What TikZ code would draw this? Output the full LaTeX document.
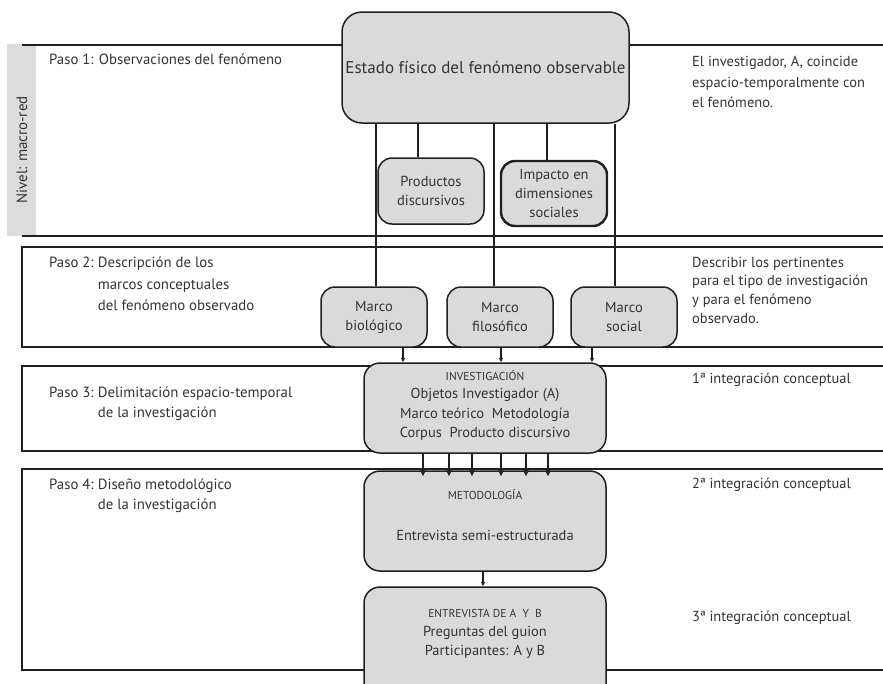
\documentclass[tikz,border=0pt]{standalone}
\usepackage{fontspec}
\setmainfont{PT Sans}
\usetikzlibrary{arrows.meta}
\definecolor{boxgray}{HTML}{DADADA}
\definecolor{bargray}{HTML}{DCDCDC}
\definecolor{ink}{HTML}{231F20}
\definecolor{txt}{HTML}{333333}
\pgfdeclarelayer{background}
\pgfsetlayers{background,main}

\tikzset{
  box/.style={draw=ink, fill=boxgray, line width=1.5pt, inner sep=0pt,
              rounded corners=14pt, text=txt, align=center,
              font=\fontsize{14.5}{19}\selectfont},
  panel/.style={draw=ink, line width=1.4pt},
  link/.style={draw=ink, line width=1.4pt},
  arr/.style={draw=ink, line width=1.3pt, -{Triangle[length=6pt,width=5.5pt]}},
  sarr/.style={draw=ink, line width=1.1pt, -{Triangle[length=4.5pt,width=4pt]}},
  lefttext/.style={anchor=west, text=txt, inner sep=0pt, align=left},
  righttext/.style={anchor=west, text=txt, inner sep=0pt, align=left},
  caps/.style={text=txt, inner sep=0pt, font=\fontsize{11.5}{13}\selectfont},
}
\newcommand\pasolabel[1]{#1\hspace{0.28em}}

\begin{document}
\begin{tikzpicture}[x=1pt, y=-1pt]
\useasboundingbox (0,0) rectangle (883,683);
\clip (0,0) rectangle (883,683);

% ---------- boxes ----------
\node[box, rounded corners=20pt, minimum width=287pt, minimum height=111pt,
      font=\fontsize{17}{20}\selectfont] (estado) at (485.5,67.5)
      {Estado físico del fenómeno observable};

\node[box, minimum width=106pt, minimum height=66pt] (prod) at (431,191)
      {Productos\\discursivos};
\node[box, line width=2.4pt, minimum width=106pt, minimum height=65pt] (imp) at (554,193.5)
      {Impacto en\\dimensiones\\sociales};

\node[box, minimum width=106pt, minimum height=60pt] (mb) at (374,317)
      {Marco\\biológico};
\node[box, minimum width=106pt, minimum height=60pt] (mf) at (500,317)
      {Marco\\filosófico};
\node[box, minimum width=106pt, minimum height=60pt] (ms) at (624,317)
      {Marco\\social};

\node[box, rounded corners=16pt, minimum width=242pt, minimum height=90pt] (inv) at (485,408) {};
\node[caps] (invt) at (485,376) {INVESTIGACIÓN};
\node[text=txt, inner sep=0pt, align=center, font=\fontsize{14.5}{19.3}\selectfont] (invb) at (485,414.5)
      {Objetos Investigador (A)\\Marco teórico\ \ Metodología\\Corpus\ \ Producto discursivo};

\node[box, rounded corners=16pt, minimum width=242pt, minimum height=100pt] (met) at (485,521) {};
\node[caps] (mett) at (485,495) {METODOLOGÍA};
\node[text=txt, inner sep=0pt, font=\fontsize{14.5}{19}\selectfont] (metb) at (485,535)
      {Entrevista semi-estructurada};

\node[box, rounded corners=16pt, minimum width=242pt, minimum height=116pt] (ent) at (485,645) {};
\node[caps] (entt) at (485,613) {ENTREVISTA DE A\hspace{3pt} Y\hspace{3pt} B};
\node[text=txt, inner sep=0pt, align=center, font=\fontsize{14.5}{19.3}\selectfont] (entb) at (485,642.5)
      {Preguntas del guion\\Participantes: A y B};

% ---------- panels and connectors behind the boxes ----------
\begin{pgfonlayer}{background}
  \fill[bargray] (7,44) rectangle (36,236);
  \draw[panel] (22,45) -- (890,45);
  \draw[panel] (22,236) -- (890,236);
  \draw[panel] (890,247) -- (22,247) -- (22,347) -- (890,347);
  \draw[panel] (890,366) -- (22,366) -- (22,451) -- (890,451);
  \draw[panel] (890,469) -- (22,469) -- (22,670) -- (890,670);

  \draw[link] ([xshift=2pt]mb.north) -- ([xshift=2pt]mb.north |- estado.south);
  \draw[link] ([xshift=-13pt]prod.north) -- ([xshift=-13pt]prod.north |- estado.south);
  \draw[link] ([xshift=-6pt]mf.north) -- ([xshift=-6pt]mf.north |- estado.south);
  \draw[link] ([xshift=-7pt]imp.north) -- ([xshift=-7pt]imp.north |- estado.south);
  \draw[link] ([xshift=-9pt]ms.north) -- ([xshift=-9pt]ms.north |- estado.south);
\end{pgfonlayer}

% ---------- arrows ----------
\draw[sarr] ([xshift=29pt]mb.south) -- ([xshift=29pt]mb.south |- inv.north);
\draw[sarr] ([xshift=1pt]mf.south) -- ([xshift=1pt]mf.south |- inv.north);
\draw[sarr] ([xshift=-32pt]ms.south) -- ([xshift=-32pt]ms.south |- inv.north);

\foreach \dx in {-62,-36,-13,16,41,63}
  \draw[arr, shorten >=-6pt] ([xshift=\dx pt]inv.south) -- ([xshift=\dx pt]met.north);

\draw[sarr] ([xshift=-2pt]met.south) -- ([xshift=-2pt]ent.north);

% ---------- side texts ----------
\node[rotate=90, text=txt, inner sep=0pt, font=\fontsize{15}{17}\selectfont] (nivel) at (22,150)
      {Nivel: macro-red};

\node[lefttext, font=\fontsize{14.8}{20}\selectfont] (p1) at (49,59)
      {Paso 1: Observaciones del fenómeno};
\node[lefttext, font=\fontsize{14.8}{21.5}\selectfont] (p2) at (49,285)
      {\begin{tabular}{@{}l@{}l@{}}\pasolabel{Paso 2:} & Descripción de los\\ & marcos conceptuales\\ & del fenómeno observado\end{tabular}};
\node[lefttext, font=\fontsize{14.8}{20}\selectfont] (p3) at (49,403)
      {\begin{tabular}{@{}l@{}l@{}}\pasolabel{Paso 3:} & Delimitación espacio-temporal\\ & de la investigación\end{tabular}};
\node[lefttext, font=\fontsize{14.8}{20}\selectfont] (p4) at (49,495)
      {\begin{tabular}{@{}l@{}l@{}}\pasolabel{Paso 4:} & Diseño metodológico\\ & de la investigación\end{tabular}};

\node[righttext, font=\fontsize{14.5}{20.5}\selectfont] (r1) at (692,82)
      {El investigador, A, coincide\\espacio-temporalmente con\\el fenómeno.};
\node[righttext, font=\fontsize{14.5}{18.7}\selectfont] (r2) at (692,290)
      {Describir los pertinentes\\para el tipo de investigación\\y para el fenómeno\\observado.};
\node[righttext, font=\fontsize{14.5}{18}\selectfont] (r3) at (692,380) {1ª integración conceptual};
\node[righttext, font=\fontsize{14.5}{18}\selectfont] (r4) at (692,485) {2ª integración conceptual};
\node[righttext, font=\fontsize{14.5}{18}\selectfont] (r5) at (692,618) {3ª integración conceptual};
\end{tikzpicture}
\end{document}
